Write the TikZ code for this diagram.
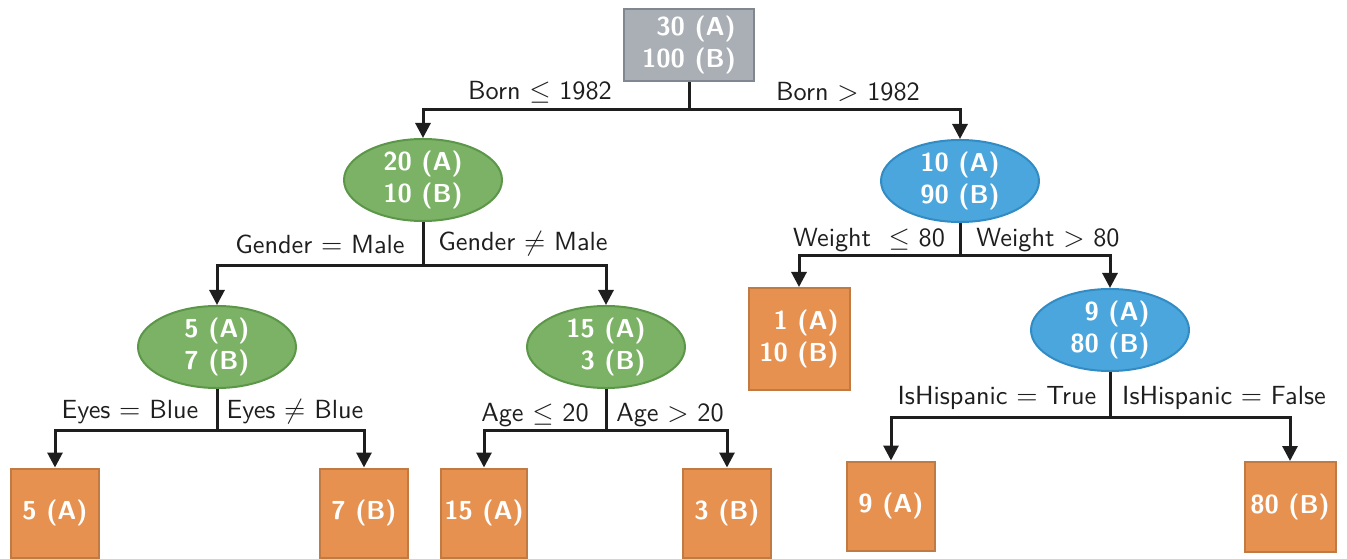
\documentclass[tikz,border=0pt]{standalone}
\usetikzlibrary{arrows.meta,shapes.geometric}
\definecolor{grayfill}{RGB}{170,175,182}
\definecolor{grayline}{RGB}{128,135,145}
\definecolor{greenfill}{RGB}{124,178,102}
\definecolor{greenline}{RGB}{92,150,72}
\definecolor{bluefill}{RGB}{74,166,220}
\definecolor{blueline}{RGB}{50,140,195}
\definecolor{orangefill}{RGB}{230,145,80}
\definecolor{orangeline}{RGB}{192,122,66}
\definecolor{edgecol}{RGB}{30,30,30}
\begin{document}
\begin{tikzpicture}[x=0.4pt,y=-0.4pt,
  every node/.style={font=\sffamily\fontsize{10.5}{12.8}\selectfont},
  val/.style={font=\sffamily\bfseries\fontsize{10.4}{12.8}\selectfont, text=white, align=right, inner sep=0pt, line width=0.8pt},
  rootbox/.style={val, rectangle, fill=grayfill, draw=grayline, minimum width=52pt, minimum height=28.8pt},
  greenell/.style={val, ellipse, fill=greenfill, draw=greenline, minimum width=63.2pt, minimum height=32pt},
  blueell/.style={val, ellipse, fill=bluefill, draw=blueline, minimum width=63.2pt, minimum height=32pt},
  leaf/.style={val, rectangle, fill=orangefill, draw=orangeline, minimum width=35.2pt, minimum height=35.6pt},
  edge/.style={draw=edgecol, line width=1.2pt, -{Triangle[width=6pt,length=6pt]}},
  lbl/.style={inner sep=0pt, text=edgecol}
]
\useasboundingbox (0,0) rectangle (1347,559);

% nodes
\node[rootbox] (root) at (689,45) {30 (A)\\100 (B)};
\node[greenell] (g1) at (423,180) {20 (A)\\10 (B)};
\node[blueell] (b1) at (960,181) {10 (A)\\90 (B)};
\node[greenell] (g2) at (217,347) {5 (A)\\7 (B)};
\node[greenell] (g3) at (606,347) {15 (A)\\3 (B)};
\node[leaf, minimum width=40.4pt, minimum height=40.8pt] (l1) at (799,339) {1 (A)\\10 (B)};
\node[blueell] (b2) at (1110,330) {9 (A)\\80 (B)};
\node[leaf] (l2) at (55,513) {5 (A)};
\node[leaf] (l3) at (364,513) {7 (B)};
\node[leaf, minimum width=34.4pt] (l4) at (484,513) {15 (A)};
\node[leaf] (l5) at (727,513) {3 (B)};
\node[leaf] (l6) at (891,506) {9 (A)};
\node[leaf, minimum width=36.4pt, minimum height=36pt] (l7) at (1290,507) {80 (B)};

% split points
\coordinate (s0) at (689,110);
\coordinate (s1) at (423,265);
\coordinate (s2) at (960,255);
\coordinate (s3) at (217,430);
\coordinate (s4) at (606,430);
\coordinate (s5) at (1110,417);

% edges
\draw[line width=1.2pt, draw=edgecol] (root.south) -- (s0);
\draw[edge] (s0) -| (g1.north);
\draw[edge] (s0) -| (b1.north);
\draw[line width=1.2pt, draw=edgecol] (g1.south) -- (s1);
\draw[edge] (s1) -| (g2.north);
\draw[edge] (s1) -| (g3.north);
\draw[line width=1.2pt, draw=edgecol] (b1.south) -- (s2);
\draw[edge] (s2) -| (l1.north);
\draw[edge] (s2) -| (b2.north);
\draw[line width=1.2pt, draw=edgecol] (g2.south) -- (s3);
\draw[edge] (s3) -| (l2.north);
\draw[edge] (s3) -| (l3.north);
\draw[line width=1.2pt, draw=edgecol] (g3.south) -- (s4);
\draw[edge] (s4) -| (l4.north);
\draw[edge] (s4) -| (l5.north);
\draw[line width=1.2pt, draw=edgecol] (b2.south) -- (s5);
\draw[edge] (s5) -| (l6.north);
\draw[edge] (s5) -| (l7.north);

% labels
\node[lbl] (t1) at (540,92) {Born $\leq$ 1982};
\node[lbl] (t2) at (848,92) {Born $>$ 1982};
\node[lbl] (t3) at (320,244) {Gender $=$ Male};
\node[lbl] (t4) at (523,244) {Gender $\neq$ Male};
\node[lbl] (t5) at (869,240) {Weight\ \ $\leq$ 80};
\node[lbl] (t6) at (1048,240) {Weight $>$ 80};
\node[lbl] (t7) at (130,412) {Eyes $=$ Blue};
\node[lbl] (t8) at (295,412) {Eyes $\neq$ Blue};
\node[lbl] (t9) at (535,415) {Age $\leq$ 20};
\node[lbl] (t10) at (670,415) {Age $>$ 20};
\node[lbl] (t11) at (997,398) {IsHispanic $=$ True};
\node[lbl] (t12) at (1224,398) {IsHispanic $=$ False};
\end{tikzpicture}
\end{document}
